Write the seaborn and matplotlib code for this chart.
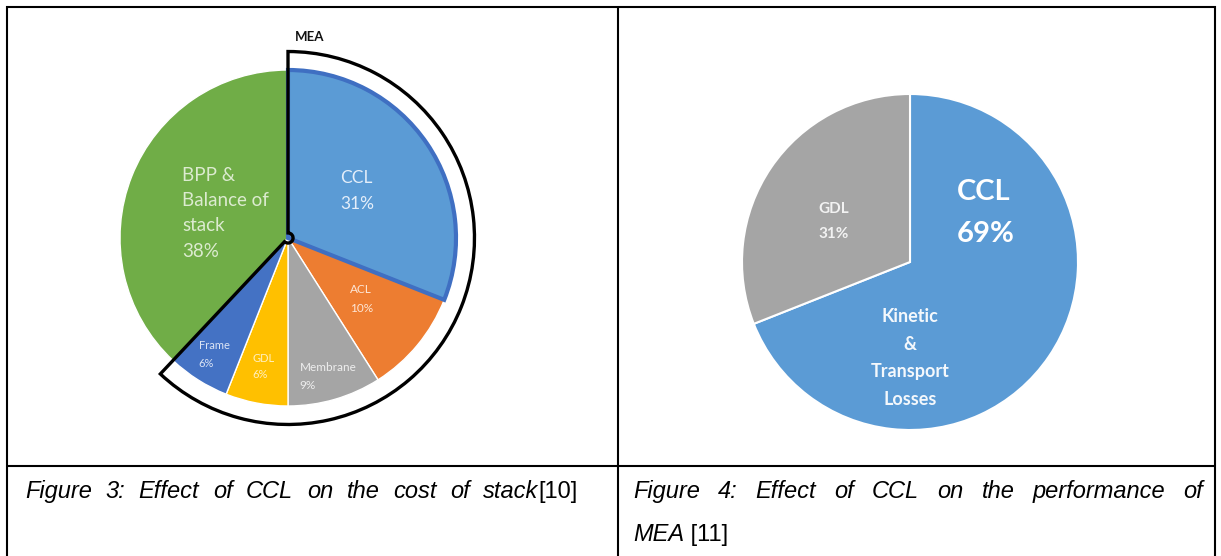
import matplotlib
matplotlib.use("Agg")
import matplotlib.pyplot as plt
from matplotlib.patches import Wedge
import numpy as np
import seaborn as sns

# ---- data ---------------------------------------------------------------
# Cost breakdown of the stack (%), clockwise from 12 o'clock
stack_parts = ["CCL", "ACL", "Membrane", "GDL", "Frame", "BPP &\nBalance of\nstack"]
stack_share = [31, 10, 9, 6, 6, 38]
mea_count = 5  # the first five components make up the MEA

# Performance losses of the MEA (%), clockwise from 12 o'clock
loss_parts = ["CCL", "GDL"]
loss_share = [69, 31]
loss_note = "Kinetic\n&\nTransport\nLosses"

caption_left = [[("Figure", "italic")], [("3:", "italic")], [("Effect", "italic")],
                [("of", "italic")], [("CCL", "italic")], [("on", "italic")],
                [("the", "italic")], [("cost", "italic")], [("of", "italic")],
                [("stack", "italic"), ("[10]", "normal")]]
caption_right_line1 = "Figure 4: Effect of CCL on the performance of"
caption_right_line2 = [("MEA", "italic"), (" [11]", "normal")]

# ---- style --------------------------------------------------------------
sns.set_theme(style="white")
plt.rcParams["font.family"] = ["Lato", "DejaVu Sans"]

office = sns.color_palette(["#5B9BD5", "#ED7D31", "#A5A5A5", "#FFC000", "#4472C4", "#70AD47"])
stack_colors = office.as_hex()
stack_text = ["#e4eefa", "#fde6d6", "#eeeeee", "#fff0c0", "#dbe4f5", "#dcebd0"]
stack_fs = [12.5, 8.5, 8.5, 8, 8, 13.5]
stack_lr = [0.50, 0.57, 0.86, 0.78, 0.82, 0.40]
stack_ls = [1.75, 1.85, 1.8, 1.6, 1.75, 1.6]
loss_colors = [office.as_hex()[0], office.as_hex()[2]]

W, H = 1221, 556
fig = plt.figure(figsize=(W / 100, H / 100), dpi=100)
fig.patch.set_facecolor("white")

# background axis in pixel units for the table frame and captions
bg = fig.add_axes([0, 0, 1, 1])
bg.set_xlim(0, W)
bg.set_ylim(H, 0)
bg.axis("off")

lw = 1.5
for x in (7, 618, 1215):
    bg.plot([x, x], [6, H], color="black", lw=lw, solid_capstyle="butt")
for y in (6.5, 466):
    bg.plot([6, 1216], [y, y], color="black", lw=lw, solid_capstyle="butt")


def pie_axes(cx, cy, r, lim=1.3):
    side = 2 * lim * r
    ax = fig.add_axes([(cx - side / 2) / W, (H - cy - side / 2) / H, side / W, side / H])
    ax.patch.set_visible(False)
    return ax


# ---- left pie: stack cost -----------------------------------------------
axl = pie_axes(288, 238, 168)
wedges, _ = axl.pie(stack_share, colors=stack_colors, startangle=90, counterclock=False,
                    radius=1, wedgeprops=dict(edgecolor="white", linewidth=1))
axl.set_xlim(-1.3, 1.3)
axl.set_ylim(-1.3, 1.3)
wedges[0].set_edgecolor("#3f6fc2")
wedges[0].set_linewidth(3)
wedges[0].set_zorder(3)

for w, name, val, tc, fs, lr, ls in zip(wedges, stack_parts, stack_share, stack_text,
                                        stack_fs, stack_lr, stack_ls):
    mid = np.deg2rad((w.theta1 + w.theta2) / 2)
    axl.text(lr * np.cos(mid), lr * np.sin(mid), f"{name}\n{val}%", color=tc, fontsize=fs,
             ha="center", va="center", multialignment="left", linespacing=ls, zorder=6)

# outline around the MEA components
mea_start = wedges[mea_count - 1].theta1
mea_end = wedges[0].theta2
r_out = 1.11
axl.add_patch(Wedge((0, 0), r_out, mea_start, mea_end, width=r_out - 0.03,
                    fill=False, edgecolor="black", linewidth=2.4, zorder=5))
axl.text(0.13, r_out + 0.05, "MEA", fontsize=9.5, fontweight="bold", color="#111111",
         ha="center", va="bottom")

# ---- right pie: MEA performance losses ----------------------------------
axr = pie_axes(910, 262, 168)
wr, _ = axr.pie(loss_share, colors=loss_colors, startangle=90, counterclock=False,
                radius=1, wedgeprops=dict(edgecolor="white", linewidth=1.5))
axr.set_xlim(-1.3, 1.3)
axr.set_ylim(-1.3, 1.3)
axr.text(0.45, 0.29, f"{loss_parts[0]}\n{loss_share[0]}%", color="white", fontsize=21,
         fontweight="bold", ha="center", va="center", multialignment="left", linespacing=1.75)
axr.text(0.0, -0.57, loss_note, color="#f4f8fc", fontsize=13, fontweight="bold",
         ha="center", va="center", linespacing=1.75)
mid = np.deg2rad((wr[1].theta1 + wr[1].theta2) / 2)
axr.text(0.55 * np.cos(mid), 0.55 * np.sin(mid) - 0.07, f"{loss_parts[1]}\n{loss_share[1]}%",
         color="#f2f2f2", fontsize=11, fontweight="bold", ha="center", va="center",
         linespacing=2.0)

# ---- captions -----------------------------------------------------------
cap_font = dict(family=["Liberation Sans", "DejaVu Sans"], fontsize=17, color="black")
renderer = fig.canvas.get_renderer()


def piece_width(txt, style):
    t = bg.text(0, 0, txt, style=style, **cap_font)
    wdt = t.get_window_extent(renderer).width
    t.remove()
    return wdt


def run(x, y, pieces):
    """Write text pieces (text, style) one after another on a baseline."""
    for txt, style in pieces:
        bg.text(x, y, txt, ha="left", va="baseline", style=style, **cap_font)
        x += piece_width(txt, style)
    return x


def justify(words, x0, x1, y):
    """Spread words evenly between x0 and x1 on one baseline."""
    widths = [sum(piece_width(t, s) for t, s in wd) for wd in words]
    gap = (x1 - x0 - sum(widths)) / (len(words) - 1)
    x = x0
    for wd, wdt in zip(words, widths):
        run(x, y, wd)
        x += wdt + gap


justify(caption_left, 25, 578, 498)
justify([[(wd, "italic")] for wd in caption_right_line1.split(" ")], 633, 1203, 498)
run(633, 541, caption_right_line2)

fig.savefig("out.png", dpi=100, facecolor="white")
